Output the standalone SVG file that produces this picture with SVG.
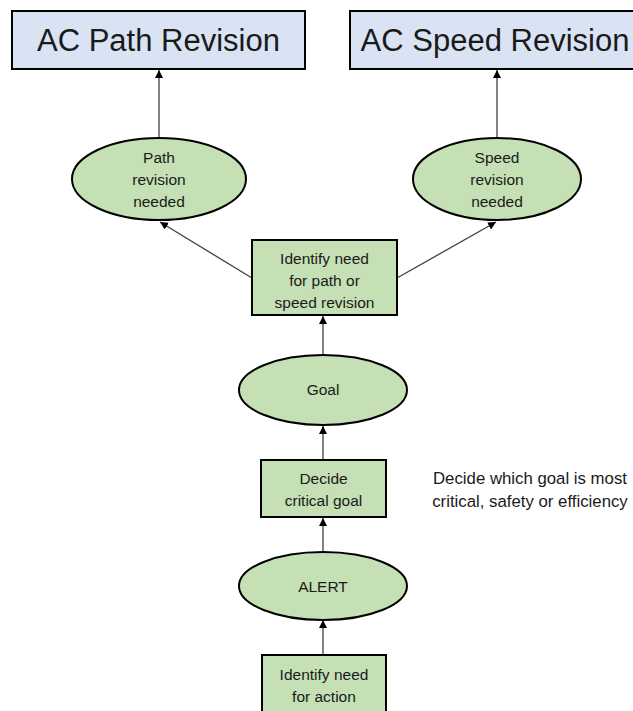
<svg xmlns="http://www.w3.org/2000/svg" width="633" height="711" viewBox="0 0 633 711">
<style>
text{font-family:"Liberation Sans",Arial,sans-serif;fill:#1a1a1a;text-anchor:middle}
.big{font-size:31px}
.sm{font-size:15.5px}
.note{font-size:16.8px}
.blue{fill:#dae3f3;stroke:#000;stroke-width:2}
.green{fill:#c5e0b4;stroke:#000;stroke-width:2}
.conn{stroke:#404040;stroke-width:1.3;fill:none;marker-end:url(#ah)}
</style>
<defs>
<marker id="ah" viewBox="0 0 10 10" refX="10" refY="5" markerWidth="8" markerHeight="8" orient="auto" markerUnits="userSpaceOnUse">
<path d="M0,0 L10,5 L0,10 z" fill="#000"/>
</marker>
</defs>
<rect width="633" height="711" fill="#fff"/>
<g id="connectors">
<line class="conn" x1="159" y1="138" x2="159" y2="70"/>
<line class="conn" x1="497" y1="138" x2="497" y2="70"/>
<line class="conn" x1="252" y1="278" x2="160" y2="222"/>
<line class="conn" x1="397" y1="278" x2="496" y2="222"/>
<line class="conn" x1="323" y1="354" x2="323" y2="316"/>
<line class="conn" x1="323" y1="460" x2="323" y2="426"/>
<line class="conn" x1="323" y1="553" x2="323" y2="518"/>
<line class="conn" x1="323" y1="655" x2="323" y2="620"/>
</g>
<g id="ac-path">
<rect class="blue" x="12" y="11" width="293" height="58"/>
<text class="big" x="158.5" y="51">AC Path Revision</text>
</g>
<g id="ac-speed">
<rect class="blue" x="350" y="11" width="290" height="58"/>
<text class="big" x="495" y="51">AC Speed Revision</text>
</g>
<g id="path-needed">
<ellipse class="green" cx="159" cy="179" rx="87" ry="41"/>
<text class="sm" x="159" y="163">Path</text>
<text class="sm" x="159" y="185">revision</text>
<text class="sm" x="159" y="207">needed</text>
</g>
<g id="speed-needed">
<ellipse class="green" cx="497" cy="179" rx="84" ry="41"/>
<text class="sm" x="497" y="163">Speed</text>
<text class="sm" x="497" y="185">revision</text>
<text class="sm" x="497" y="207">needed</text>
</g>
<g id="identify-revision">
<rect class="green" x="252" y="240" width="145" height="75"/>
<text class="sm" x="324.5" y="264">Identify need</text>
<text class="sm" x="324.5" y="286">for path or</text>
<text class="sm" x="324.5" y="308">speed revision</text>
</g>
<g id="goal">
<ellipse class="green" cx="323" cy="390" rx="84" ry="35"/>
<text class="sm" x="323" y="395">Goal</text>
</g>
<g id="decide">
<rect class="green" x="261" y="460" width="125" height="57"/>
<text class="sm" x="323.5" y="484">Decide</text>
<text class="sm" x="323.5" y="506">critical goal</text>
</g>
<g id="alert">
<ellipse class="green" cx="323" cy="586" rx="84" ry="34"/>
<text class="sm" x="323" y="592">ALERT</text>
</g>
<g id="identify-action">
<rect class="green" x="262" y="655" width="124" height="60"/>
<text class="sm" x="324" y="680">Identify need</text>
<text class="sm" x="324" y="702">for action</text>
</g>
<g id="note">
<text class="note" x="530" y="484">Decide which goal is most</text>
<text class="note" x="530" y="507">critical, safety or efficiency</text>
</g>
</svg>
